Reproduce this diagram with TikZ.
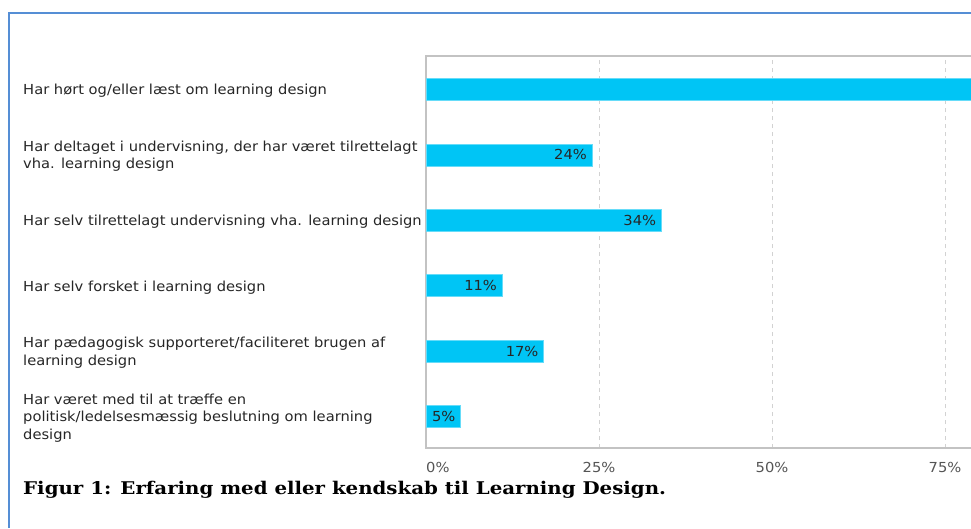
\documentclass[tikz,border=0pt]{standalone}
\usepackage{fontspec}
\setmainfont{DejaVu Sans}[FakeStretch=1.065]
\newfontfamily\captionfont{DejaVu Serif}[FakeStretch=1.13]
\usetikzlibrary{calc}

\definecolor{frameblue}{RGB}{85,142,213}
\definecolor{barcyan}{RGB}{0,197,245}
\definecolor{gridgray}{RGB}{210,210,210}
\definecolor{axisgray}{RGB}{195,195,195}
\definecolor{ticktext}{RGB}{85,85,85}
\newcommand{\chartfont}{\fontsize{13.8}{17.5}\selectfont}

\begin{document}
\begin{tikzpicture}[x=1pt, y=-1pt,
    lab/.style={anchor=west, align=left, inner sep=0pt, text=black!85, font=\chartfont},
    bar/.style={fill=barcyan, draw=barcyan!60!white, line width=0.6pt},
    val/.style={anchor=east, inner sep=0pt, text=black!85, font=\chartfont},
    tick/.style={inner sep=0pt, text=ticktext, font=\chartfont}]
    % Page, fixed to the reference size
    \useasboundingbox (0,0) rectangle (971,528);
    \clip (0,0) rectangle (971,528);

    % Blue frame round the figure (open to the right and bottom)
    \draw[frameblue, line width=2pt] (9,528) -- (9,13) -- (971,13);

    % Plot area: 0% at x=426, 6.92 per percent
    \coordinate (origin) at (426,448);
    \coordinate (topleft) at (426,56);

    % Dashed grid lines
    \foreach \p in {25,50,75}
        \draw[gridgray, dashed, line width=1pt, dash pattern=on 4pt off 4pt]
            ($(origin)+(6.92*\p,0)$) -- ($(topleft)+(6.92*\p,0)$);

    % Frame of the plot area
    \draw[axisgray, line width=1.5pt] (971,56) -- (topleft) -- (origin) -- (971,448);

    % First bar runs past the edge of the picture
    \draw[bar] (426,78.5) rectangle (975,100.5);
    \node[lab] (lab1) at (23,90.5) {Har hørt og/eller læst om learning design};

    % The other bars with their values
    \foreach \i/\v/\txt in {
        2/24/{Har deltaget i undervisning, der har været tilrettelagt\\vha. learning design},
        3/34/{Har selv tilrettelagt undervisning vha. learning design},
        4/11/{Har selv forsket i learning design},
        5/17/{Har pædagogisk supporteret/faciliteret brugen af\\learning design},
        6/5/{Har været med til at træffe en\\politisk/ledelsesmæssig beslutning om learning\\design}} {
        \pgfmathsetmacro{\yc}{89.5+65.4*(\i-1)}
        \draw[bar] (426,\yc-11) rectangle (426+6.92*\v,\yc+11);
        \node[val] (val\i) at (426+6.92*\v-5,\yc) {\v\%};
        \node[lab] (lab\i) at (23,\yc+1.5) {\txt};
    }

    % Tick labels
    \node[tick, anchor=west] (tick0) at (426,467) {0\%};
    \foreach \p in {25,50,75}
        \node[tick] (tick\p) at (426+6.92*\p,467) {\p\%};

    % Caption
    \node[anchor=base west, inner sep=0pt, font=\captionfont\bfseries\fontsize{17.5}{20}\selectfont]
        (caption) at (23,494) {Figur 1: Erfaring med eller kendskab til Learning Design.};
\end{tikzpicture}
\end{document}
